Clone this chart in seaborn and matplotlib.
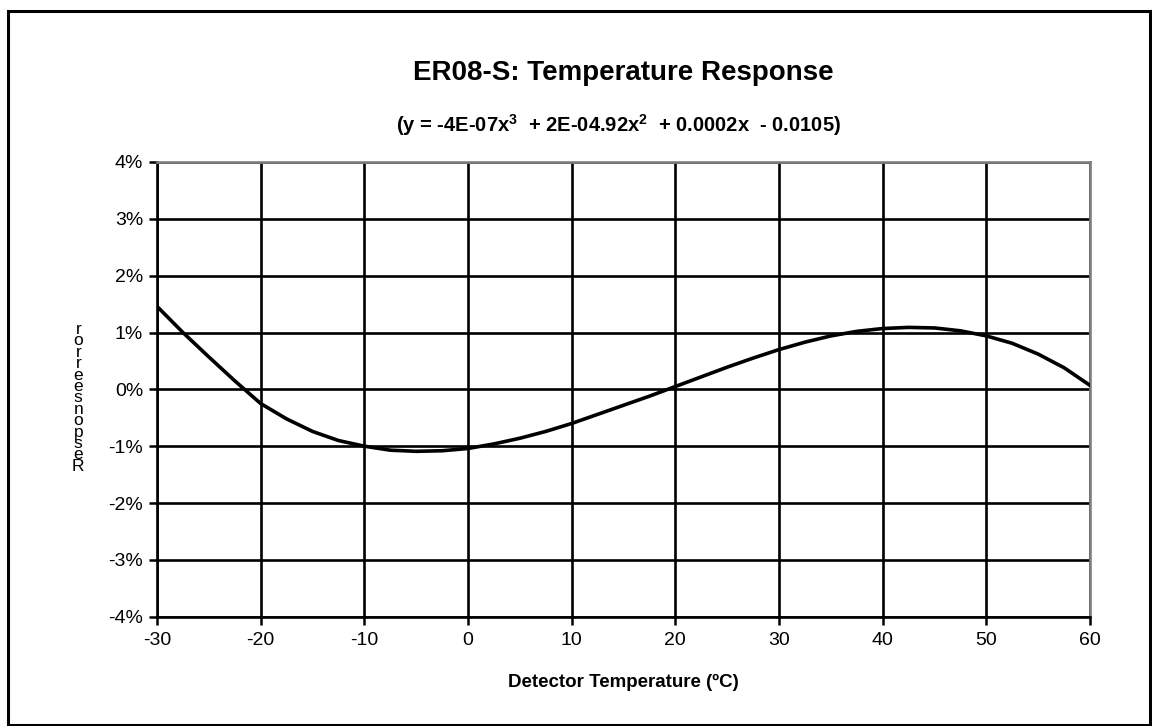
import numpy as np
import pandas as pd
import matplotlib.pyplot as plt
import seaborn as sns
from matplotlib.patches import Rectangle

# values (response in %)
temperature = [-30, -27.5, -25, -22.5, -20, -17.5, -15, -12.5, -10, -7.5, -5, -2.5, 0, 2.5, 5, 7.5, 10, 12.5, 15,
               17.5, 20, 22.5, 25, 27.5, 30, 32.5, 35, 37.5, 40, 42.5, 45, 47.5, 50, 52.5, 55, 57.5, 60]
response = [1.46, 1.0, 0.57, 0.15, -0.25, -0.52, -0.74, -0.9, -1.0, -1.07, -1.09, -1.08, -1.04, -0.96, -0.86,
            -0.74, -0.6, -0.44, -0.28, -0.12, 0.05, 0.22, 0.39, 0.55, 0.7, 0.83, 0.94, 1.02, 1.07, 1.09, 1.08,
            1.03, 0.94, 0.81, 0.62, 0.38, 0.07]

x_ticks = [-30, -20, -10, 0, 10, 20, 30, 40, 50, 60]
y_ticks = [-4, -3, -2, -1, 0, 1, 2, 3, 4]

title = 'ER08-S: Temperature Response'
subtitle = r'(y = -4E-07x$^\mathbf{3}$  + 2E-04.92x$^\mathbf{2}$  + 0.0002x  - 0.0105)'
xlab = 'Detector Temperature (ºC)'
ylab = 'Response error'

sns.set_style('white')
plt.rcParams['font.family'] = ['Liberation Sans', 'DejaVu Sans']
plt.rcParams['mathtext.fontset'] = 'custom'
plt.rcParams['mathtext.bf'] = 'Liberation Sans:bold'
plt.rcParams['mathtext.rm'] = 'Liberation Sans:bold'
plt.rcParams['axes.unicode_minus'] = False
plt.rcParams['text.color'] = 'black'

df = pd.DataFrame({'Temperature': temperature, 'Response': response})

fig = plt.figure(figsize=(11.52, 7.26), dpi=100)
ax = fig.add_axes([0.1363, 0.1505, 0.8099, 0.6264])

sns.lineplot(data=df, x='Temperature', y='Response', ax=ax, color='black', linewidth=2.6, zorder=3)

ax.set_xlim(-30, 60)
ax.set_ylim(-4, 4)
ax.set_xticks(x_ticks)
ax.set_yticks(y_ticks)
ax.set_yticklabels([f'{v}%' for v in y_ticks])
ax.tick_params(axis='both', labelsize=14, colors='black', labelcolor='black', length=6, width=1.8,
               direction='out', bottom=True, left=True)
ax.tick_params(axis='x', pad=5)
ax.tick_params(axis='y', pad=4)
ax.grid(True, color='black', linewidth=1.9)
for s in ['left', 'bottom']:
    ax.spines[s].set_color('black')
    ax.spines[s].set_linewidth(1.9)
for s in ['top', 'right']:
    ax.spines[s].set_color('#808080')
    ax.spines[s].set_linewidth(1.9)
ax.set_xlabel('')
ax.set_ylabel('')

fig.text(0.541, 0.890, title, ha='center', va='baseline', fontsize=20, fontweight='bold')
fig.text(0.537, 0.818, subtitle, ha='center', va='baseline', fontsize=14.5, fontweight='bold')
fig.text(0.541, 0.054, xlab, ha='center', va='baseline', fontsize=13.5, fontweight='bold')

# y label drawn as stacked letters, bottom to top, like the reference
fig.text(0.068, 0.452, '\n'.join(reversed(ylab.replace(' ', ''))), ha='center', va='center',
         fontsize=12.5, linespacing=0.7)

fig.patches.append(Rectangle((0.007, 0.002), 0.991, 0.983, transform=fig.transFigure,
                             fill=False, edgecolor='black', linewidth=2.2))

fig.savefig('out.png', dpi=100, facecolor='white')
